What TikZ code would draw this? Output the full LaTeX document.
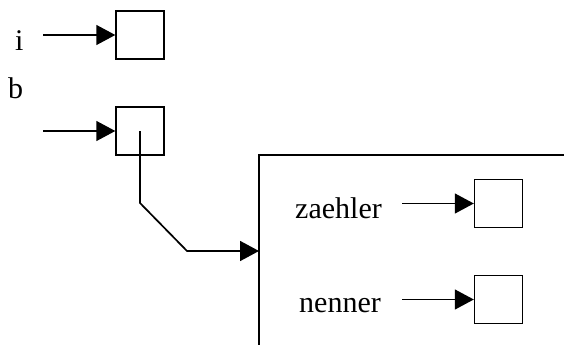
\documentclass[tikz,border=0pt]{standalone}
\usepackage{fontspec}
\setmainfont{Liberation Serif}
\usetikzlibrary{arrows.meta}
\begin{document}
\begin{tikzpicture}[x=1pt,y=1pt,
  cell/.style={draw,line width=1.4pt,minimum width=48pt,minimum height=48pt,inner sep=0pt},
  lbl/.style={inner sep=0pt,font=\fontsize{30}{36}\selectfont},
  ptr/.style={line width=1.4pt,-{Triangle[length=19pt,width=20pt]}},
  wall/.style={line width=2pt}]
\useasboundingbox (0,0) rectangle (564,-345);
% variables
\node[lbl,anchor=base west] (ti) at (15,-50) {i};
\node[lbl,anchor=base west] (tb) at (8,-98) {b};
\node[cell] (bi) at (140,-35) {};
\node[cell] (bb) at (140,-131) {};
\coordinate (si) at (43,-35);
\coordinate (sb) at (43,-131);
\draw[ptr] (si) -- (bi.west);
\draw[ptr] (sb) -- (bb.west);
% object
\coordinate (otr) at (564,-155);
\coordinate (otl) at (259,-155);
\coordinate (obl) at (259,-345);
\coordinate (oin) at (259,-251);
\draw[wall] (otr) -- (otl) -- (obl);
\draw[ptr,line width=1.7pt] (bb.center) -- (140,-203) -- (187,-251) -- (oin);
% fields
\node[lbl,anchor=base east] (tz) at (382,-218) {zaehler};
\node[lbl,anchor=base east] (tn) at (381,-312) {nenner};
\node[cell] (bz) at (498.5,-203.5) {};
\node[cell] (bn) at (498.5,-299.5) {};
\coordinate (sz) at (402,-203.5);
\coordinate (sn) at (402,-299.5);
\draw[ptr] (sz) -- (bz.west);
\draw[ptr] (sn) -- (bn.west);
\end{tikzpicture}
\end{document}
